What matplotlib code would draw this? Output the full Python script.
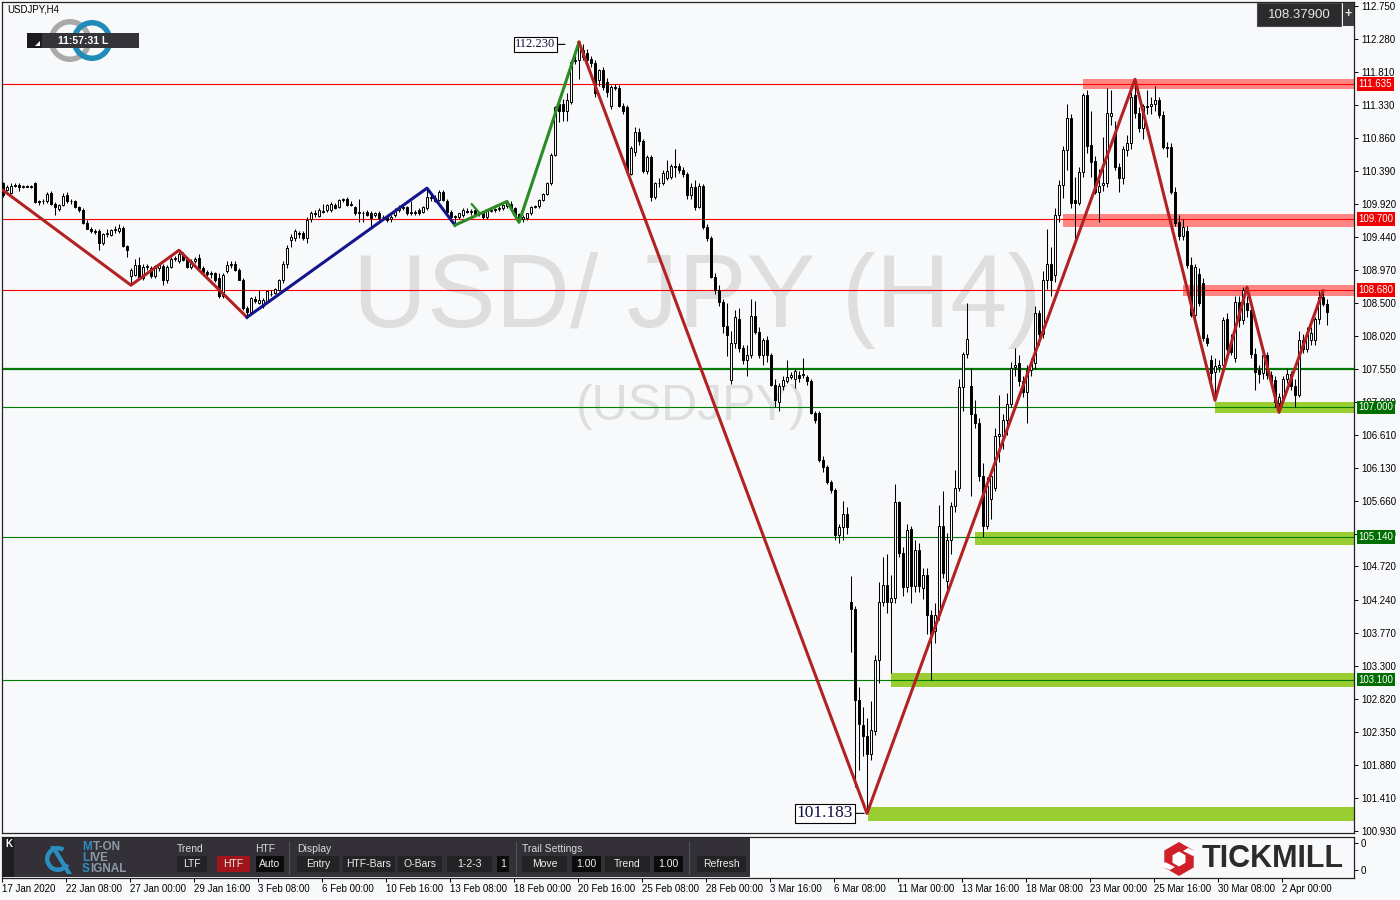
import numpy as np
import matplotlib.pyplot as plt
from matplotlib.patches import Rectangle, Wedge, RegularPolygon, Polygon

plt.rcParams['font.family'] = ['Liberation Sans', 'DejaVu Sans']

# H4 candles, 17 Jan 2020 16:00 .. 3 Apr 2020
opens = [
    110.21, 110.12, 110.07, 110.17, 110.18, 110.16, 110.17, 110.16, 110.21, 109.94,
    109.95, 109.95, 110.07, 109.92, 109.84, 109.90, 110.04, 109.95, 109.95, 109.87,
    109.83, 109.64, 109.56, 109.52, 109.52, 109.35, 109.49, 109.47, 109.54, 109.52,
    109.57, 109.31, 108.88, 108.90, 109.04, 108.85, 109.01, 108.99, 108.88, 108.99,
    109.02, 108.82, 109.01, 109.13, 109.09, 109.18, 109.12, 109.01, 109.10, 109.14,
    109.00, 108.94, 108.91, 108.92, 108.85, 108.60, 108.96, 109.04, 109.06, 108.97,
    108.83, 108.42, 108.37, 108.55, 108.50, 108.45, 108.52, 108.63, 108.64, 108.68,
    108.82, 109.05, 109.40, 109.42, 109.50, 109.50, 109.42, 109.70, 109.78, 109.74,
    109.82, 109.83, 109.83, 109.90, 109.87, 109.97, 109.98, 109.92, 109.87, 109.79,
    109.79, 109.80, 109.79, 109.76, 109.78, 109.72, 109.73, 109.70, 109.76, 109.83,
    109.86, 109.87, 109.79, 109.80, 109.83, 109.80, 109.85, 110.00, 110.00, 109.97,
    110.09, 109.96, 109.80, 109.73, 109.73, 109.76, 109.82, 109.80, 109.83, 109.77,
    109.80, 109.72, 109.82, 109.83, 109.84, 109.85, 109.88, 109.92, 109.85, 109.77,
    109.70, 109.71, 109.78, 109.87, 109.88, 109.97, 110.06, 110.21, 110.62, 111.35,
    111.34, 111.24, 111.38, 111.96, 111.98, 112.12, 112.08, 111.99, 111.93, 111.69,
    111.83, 111.66, 111.31, 111.59, 111.58, 111.32, 111.30, 110.35, 110.66, 110.95,
    110.81, 110.38, 110.59, 110.02, 110.21, 110.21, 110.28, 110.30, 110.46, 110.46,
    110.40, 110.34, 110.04, 110.16, 109.87, 110.17, 109.58, 109.42, 108.87, 108.68,
    108.51, 108.16, 107.39, 107.92, 108.26, 107.85, 107.68, 107.75, 108.31, 108.08,
    107.75, 107.96, 107.75, 107.32, 107.08, 107.30, 107.38, 107.44, 107.41, 107.47,
    107.46, 107.43, 107.38, 106.92, 106.92, 106.25, 106.15, 105.93, 105.81, 105.17,
    105.29, 105.47, 104.21, 104.11, 102.81, 102.45, 102.29, 102.04, 102.36, 103.38,
    104.21, 104.46, 104.21, 104.27, 105.64, 104.91, 104.42, 105.25, 104.44, 104.96,
    104.41, 104.60, 104.02, 103.80, 104.02, 105.30, 104.51, 105.10, 105.59, 105.85,
    107.29, 107.77, 107.31, 106.91, 106.77, 106.02, 105.30, 105.69, 105.85, 106.59,
    106.59, 106.82, 107.05, 107.58, 107.64, 107.38, 107.22, 107.53, 107.64, 108.35,
    108.05, 108.82, 109.06, 108.89, 109.75, 110.18, 110.69, 111.14, 109.97, 109.93,
    110.37, 111.48, 110.76, 110.53, 110.08, 110.19, 110.21, 111.17, 110.95, 110.45,
    110.28, 110.69, 110.78, 111.48, 111.21, 111.00, 111.31, 111.31, 111.34, 111.41,
    111.19, 110.73, 110.73, 110.09, 109.66, 109.45, 109.53, 109.04, 108.32, 108.91,
    108.78, 107.99, 107.68, 107.51, 107.58, 107.61, 108.27, 107.92, 107.70, 108.51,
    108.25, 108.50, 108.40, 107.77, 107.53, 107.49, 107.75, 107.46, 107.39, 107.06,
    107.13, 107.40, 107.48, 107.30, 107.18, 107.96, 107.84, 107.97, 107.96, 108.26,
    108.58, 108.48,
]
highs = [
    110.23, 110.19, 110.21, 110.22, 110.21, 110.19, 110.19, 110.19, 110.23, 109.97,
    109.98, 110.08, 110.10, 109.94, 109.92, 110.07, 110.08, 109.98, 109.97, 109.89,
    109.85, 109.68, 109.58, 109.55, 109.55, 109.50, 109.55, 109.55, 109.60, 109.62,
    109.60, 109.33, 108.99, 109.12, 109.15, 109.05, 109.06, 109.03, 109.04, 109.06,
    109.06, 109.04, 109.16, 109.17, 109.22, 109.22, 109.16, 109.12, 109.15, 109.20,
    109.02, 108.97, 108.95, 108.94, 108.92, 108.92, 109.10, 109.10, 109.09, 109.00,
    108.86, 108.45, 108.58, 108.59, 108.68, 108.57, 108.67, 108.68, 108.71, 108.84,
    109.10, 109.32, 109.48, 109.55, 109.53, 109.52, 109.72, 109.82, 109.83, 109.86,
    109.92, 109.92, 109.94, 109.93, 109.99, 110.00, 110.01, 109.95, 109.89, 109.99,
    109.82, 109.83, 109.82, 109.80, 109.82, 109.76, 109.75, 109.76, 109.85, 109.90,
    109.90, 109.89, 109.95, 109.83, 109.85, 109.89, 110.16, 110.07, 110.04, 110.11,
    110.12, 109.98, 109.83, 109.76, 109.79, 109.85, 109.85, 109.84, 109.85, 109.80,
    109.82, 109.83, 109.85, 109.86, 109.88, 109.91, 109.96, 109.95, 109.87, 109.79,
    109.76, 109.79, 109.89, 109.90, 109.98, 110.07, 110.23, 110.64, 111.32, 111.45,
    111.42, 111.50, 111.97, 112.05, 112.23, 112.20, 112.14, 112.04, 111.97, 111.85,
    111.88, 111.72, 111.62, 111.63, 111.62, 111.36, 111.33, 110.74, 111.02, 111.00,
    110.84, 110.62, 110.62, 110.23, 110.28, 110.40, 110.55, 110.48, 110.70, 110.50,
    110.44, 110.37, 110.22, 110.25, 110.22, 110.20, 109.62, 109.45, 108.92, 108.75,
    108.55, 108.50, 108.10, 108.40, 108.42, 107.90, 107.90, 108.55, 108.53, 108.15,
    108.00, 108.02, 107.78, 107.40, 107.35, 107.45, 107.68, 107.50, 107.55, 107.52,
    107.70, 107.46, 107.40, 106.95, 106.95, 106.30, 106.18, 105.96, 105.85, 105.33,
    105.66, 105.57, 104.58, 104.15, 103.00, 102.70, 102.55, 102.80, 103.45, 104.50,
    104.85, 104.90, 104.60, 105.90, 105.66, 105.00, 105.33, 105.30, 105.10, 105.05,
    104.70, 104.70, 104.10, 104.20, 105.60, 105.80, 105.20, 105.65, 106.10, 107.40,
    107.80, 108.50, 107.57, 107.10, 106.85, 106.20, 106.00, 106.05, 106.70, 107.18,
    106.90, 107.20, 107.65, 107.85, 107.75, 107.45, 107.60, 107.70, 108.45, 108.40,
    108.95, 109.55, 109.30, 109.85, 110.25, 110.75, 111.35, 111.20, 110.30, 110.45,
    111.50, 111.55, 111.24, 110.60, 110.42, 110.88, 111.57, 111.55, 111.10, 110.50,
    110.75, 110.90, 111.60, 111.70, 111.30, 111.35, 111.55, 111.45, 111.60, 111.45,
    111.25, 110.80, 110.78, 110.15, 109.75, 109.70, 109.60, 109.15, 109.05, 109.00,
    108.85, 108.05, 107.75, 107.70, 107.68, 108.30, 108.35, 108.05, 108.60, 108.60,
    108.73, 108.60, 108.45, 107.85, 107.60, 107.85, 107.80, 107.52, 107.45, 107.20,
    107.45, 107.55, 107.52, 107.40, 108.10, 108.05, 108.15, 108.15, 108.30, 108.67,
    108.65, 108.55,
]
lows = [
    110.02, 110.10, 110.05, 110.15, 110.10, 110.14, 110.15, 110.14, 109.93, 109.90,
    109.91, 109.93, 109.90, 109.76, 109.82, 109.88, 109.93, 109.92, 109.85, 109.80,
    109.62, 109.55, 109.50, 109.48, 109.25, 109.33, 109.44, 109.45, 109.50, 109.50,
    109.30, 109.16, 108.75, 108.88, 108.85, 108.83, 108.97, 108.86, 108.85, 108.96,
    108.75, 108.78, 108.99, 109.10, 109.07, 109.09, 108.99, 108.98, 109.07, 108.99,
    108.92, 108.88, 108.85, 108.80, 108.57, 108.57, 108.92, 109.00, 108.95, 108.82,
    108.40, 108.29, 108.34, 108.50, 108.48, 108.43, 108.50, 108.60, 108.62, 108.66,
    108.78, 109.00, 109.30, 109.38, 109.42, 109.40, 109.36, 109.66, 109.72, 109.72,
    109.78, 109.80, 109.80, 109.84, 109.85, 109.94, 109.88, 109.88, 109.75, 109.66,
    109.66, 109.74, 109.59, 109.73, 109.69, 109.68, 109.66, 109.65, 109.73, 109.80,
    109.83, 109.76, 109.76, 109.76, 109.76, 109.78, 109.83, 109.95, 109.94, 109.95,
    109.96, 109.79, 109.70, 109.61, 109.70, 109.73, 109.78, 109.76, 109.74, 109.74,
    109.70, 109.70, 109.80, 109.80, 109.82, 109.83, 109.86, 109.84, 109.75, 109.65,
    109.66, 109.69, 109.76, 109.85, 109.86, 109.95, 110.04, 110.19, 110.60, 111.09,
    111.10, 111.10, 111.35, 111.92, 111.70, 111.98, 111.95, 111.88, 111.45, 111.60,
    111.55, 111.45, 111.28, 111.55, 111.30, 111.20, 110.36, 110.33, 110.60, 110.76,
    110.36, 110.34, 109.96, 109.98, 110.16, 110.18, 110.25, 110.27, 110.30, 110.36,
    110.30, 109.98, 109.99, 109.83, 109.85, 109.55, 109.38, 108.85, 108.63, 108.45,
    108.06, 107.73, 107.33, 107.85, 107.80, 107.62, 107.45, 107.70, 108.05, 107.70,
    107.60, 107.65, 107.30, 107.00, 106.95, 107.25, 107.35, 107.40, 107.28, 107.37,
    107.42, 107.32, 106.90, 106.78, 106.22, 106.08, 105.90, 105.78, 105.10, 105.05,
    105.10, 105.18, 103.50, 101.56, 101.80, 102.00, 101.183, 101.95, 102.30, 103.05,
    104.15, 104.05, 103.19, 104.20, 104.85, 104.30, 104.35, 104.20, 104.35, 104.35,
    104.25, 103.75, 103.09, 103.62, 103.95, 104.55, 104.40, 104.90, 105.50, 105.80,
    106.95, 107.70, 105.73, 106.70, 105.95, 105.14, 105.25, 105.40, 105.80, 106.21,
    106.40, 106.60, 107.00, 107.45, 107.30, 107.15, 106.77, 107.45, 107.55, 107.90,
    108.00, 108.70, 108.60, 108.80, 109.65, 110.00, 110.40, 109.85, 109.34, 109.90,
    110.30, 110.65, 110.30, 110.05, 109.66, 110.10, 110.15, 111.05, 110.40, 110.09,
    110.20, 110.60, 110.70, 111.15, 110.95, 110.85, 111.20, 111.20, 111.25, 111.15,
    110.70, 110.59, 110.05, 109.60, 109.40, 109.40, 109.00, 108.30, 108.25, 108.45,
    107.95, 107.88, 107.37, 107.10, 107.50, 107.55, 107.70, 107.75, 107.65, 108.15,
    108.20, 108.30, 107.70, 107.25, 107.35, 107.40, 107.40, 107.30, 107.00, 106.92,
    107.10, 107.35, 107.25, 107.01, 107.15, 107.78, 107.80, 107.90, 107.90, 108.20,
    108.45, 108.18,
]
closes = [
    110.04, 110.15, 110.17, 110.18, 110.16, 110.17, 110.16, 110.17, 109.94, 109.95,
    109.95, 110.06, 109.92, 109.87, 109.90, 110.03, 109.95, 109.96, 109.87, 109.83,
    109.64, 109.56, 109.52, 109.51, 109.35, 109.49, 109.50, 109.54, 109.55, 109.57,
    109.31, 109.25, 108.97, 109.04, 108.87, 109.01, 109.02, 108.88, 109.02, 109.04,
    108.82, 109.01, 109.13, 109.14, 109.20, 109.11, 109.01, 109.10, 109.12, 109.00,
    108.94, 108.91, 108.92, 108.82, 108.59, 108.90, 109.04, 109.06, 108.97, 108.83,
    108.42, 108.37, 108.56, 108.53, 108.54, 108.54, 108.66, 108.62, 108.69, 108.82,
    109.05, 109.28, 109.44, 109.52, 109.48, 109.42, 109.69, 109.79, 109.77, 109.83,
    109.80, 109.90, 109.91, 109.86, 109.97, 109.98, 109.90, 109.90, 109.78, 109.80,
    109.78, 109.75, 109.71, 109.78, 109.71, 109.73, 109.68, 109.73, 109.83, 109.87,
    109.87, 109.78, 109.80, 109.79, 109.78, 109.87, 110.02, 110.01, 109.95, 110.09,
    109.97, 109.80, 109.73, 109.74, 109.78, 109.83, 109.80, 109.81, 109.76, 109.78,
    109.73, 109.81, 109.83, 109.84, 109.86, 109.90, 109.94, 109.85, 109.76, 109.68,
    109.73, 109.78, 109.87, 109.88, 109.97, 110.06, 110.21, 110.62, 111.30, 111.24,
    111.24, 111.40, 111.95, 111.98, 112.19, 112.02, 111.98, 111.93, 111.50, 111.83,
    111.59, 111.52, 111.59, 111.58, 111.32, 111.24, 110.38, 110.71, 110.95, 110.81,
    110.38, 110.59, 110.02, 110.21, 110.22, 110.36, 110.38, 110.46, 110.45, 110.40,
    110.34, 110.04, 110.16, 109.87, 110.17, 109.58, 109.42, 108.87, 108.68, 108.51,
    108.16, 108.04, 107.92, 108.29, 107.85, 107.68, 107.75, 108.31, 108.08, 107.75,
    107.96, 107.75, 107.32, 107.10, 107.30, 107.39, 107.44, 107.46, 107.52, 107.42,
    107.48, 107.38, 106.92, 106.82, 106.25, 106.15, 105.93, 105.81, 105.17, 105.29,
    105.47, 105.29, 104.11, 102.81, 102.46, 102.29, 102.04, 102.38, 103.38, 104.21,
    104.46, 104.21, 104.27, 105.64, 104.91, 104.42, 105.24, 104.44, 104.96, 104.44,
    104.60, 104.02, 103.75, 104.02, 105.30, 104.62, 105.10, 105.59, 105.85, 107.29,
    107.77, 107.98, 106.91, 106.77, 106.02, 105.30, 105.88, 106.02, 106.59, 106.62,
    106.82, 107.05, 107.57, 107.61, 107.38, 107.22, 107.53, 107.64, 108.35, 108.05,
    108.82, 109.06, 108.82, 109.75, 110.18, 110.69, 111.14, 109.93, 109.93, 110.37,
    111.48, 110.74, 110.52, 110.09, 110.17, 110.21, 111.22, 111.22, 110.45, 110.28,
    110.70, 110.78, 111.45, 111.21, 111.00, 111.31, 111.30, 111.34, 111.41, 111.19,
    110.73, 110.72, 110.09, 109.64, 109.45, 109.58, 109.04, 108.32, 109.01, 108.49,
    107.99, 107.92, 107.49, 107.59, 107.61, 108.25, 107.84, 107.80, 108.51, 108.25,
    108.68, 108.39, 107.77, 107.51, 107.48, 107.75, 107.46, 107.37, 107.08, 107.15,
    107.40, 107.48, 107.30, 107.18, 107.96, 107.84, 108.06, 108.06, 108.26, 108.58,
    108.48, 108.37,
]

# zigzag swing points (bar index, price)
zz_red1_x = [0, 32, 44, 61]
zz_red1_y = [110.11, 108.75, 109.25, 108.29]
zz_blue_x = [61, 106, 113]
zz_blue_y = [108.29, 110.14, 109.61]
zz_green_x = [113, 126, 129, 144]
zz_green_y = [109.61, 109.95, 109.65, 112.23]
zz_green2_x = [117.2, 119.2]
zz_green2_y = [109.91, 109.78]
zz_main_x = [144, 216, 283, 303, 311, 319, 330]
zz_main_y = [112.23, 101.183, 111.70, 107.10, 108.72, 106.93, 108.67]

# levels
res_levels = [111.635, 109.70, 108.68]
sup_levels = [107.00, 105.14, 103.10]
thick_level = 107.55
# zones: start bar, low, high
red_zones = [(270, 111.56, 111.71), (265, 109.58, 109.77), (295, 108.60, 108.75)]
green_zones = [(303, 106.92, 107.08), (243, 105.03, 105.21), (222, 102.99, 103.19), (216.3, 101.07, 101.27)]

price_ticks = [112.750, 112.280, 111.810, 111.330, 110.860, 110.390, 109.920, 109.440,
               108.970, 108.500, 108.020, 107.550, 107.080, 106.610, 106.130, 105.660,
               105.180, 104.720, 104.240, 103.770, 103.300, 102.820, 102.350, 101.880,
               101.410, 100.930]
date_labels = ['17 Jan 2020', '22 Jan 08:00', '27 Jan 00:00', '29 Jan 16:00', '3 Feb 08:00',
               '6 Feb 00:00', '10 Feb 16:00', '13 Feb 08:00', '18 Feb 00:00', '20 Feb 16:00',
               '25 Feb 08:00', '28 Feb 00:00', '3 Mar 16:00', '6 Mar 08:00', '11 Mar 00:00',
               '13 Mar 16:00', '18 Mar 08:00', '23 Mar 00:00', '25 Mar 16:00', '30 Mar 08:00',
               '2 Apr 00:00']

W, H = 1400, 900
BG = '#F8F9FB'
XLIM = (-0.25, 337.75)

fig = plt.figure(figsize=(W / 100, H / 100), dpi=100, facecolor=BG)
tr = fig.dpi_scale_trans


def pt(x, y):
    # screen pixel (top-left origin) -> inches for dpi_scale_trans
    return (x / 100, (H - y) / 100)


def rect(x0, y0, x1, y1, fc, ec='none', lw=0):
    fig.add_artist(Rectangle(pt(x0, y1), (x1 - x0) / 100, (y1 - y0) / 100,
                             transform=tr, fc=fc, ec=ec, lw=lw))


def ftext(x, y, s, **kw):
    fig.text(x / W, 1 - y / H, s, **kw)


# ---- main chart ----
ax = fig.add_axes([2 / W, (H - 833) / H, 1352 / W, 831 / H])
ax.set_facecolor(BG)
ax.set_xlim(*XLIM)
ax.set_ylim(100.902, 112.807)

o = np.array(opens)
h = np.array(highs)
l = np.array(lows)
c = np.array(closes)
x = np.arange(len(c))
up = c >= o

# watermark
ax.text(0.514, 0.641, 'USD/ JPY (H4)', transform=ax.transAxes, fontsize=74,
        color='#DEDEDE', ha='center', va='center', zorder=0.5)
ax.text(0.510, 0.513, '(USDJPY)', transform=ax.transAxes, fontsize=36,
        color='#DEDEDE', ha='center', va='center', zorder=0.5)

for start, lo, hi in red_zones:
    ax.add_patch(Rectangle((start, lo), XLIM[1] - start + 1, hi - lo, fc='#FF8585', ec='none', zorder=1))
for start, lo, hi in green_zones:
    ax.add_patch(Rectangle((start, lo), XLIM[1] - start + 1, hi - lo, fc='#9ACD32', ec='none', zorder=1))
for lv in res_levels:
    ax.axhline(lv, color='#FF0000', lw=0.8, zorder=1.5)
for lv in sup_levels:
    ax.axhline(lv, color='#008000', lw=0.8, zorder=1.5)
ax.axhline(thick_level, color='#007A00', lw=1.6, zorder=1.5)

# candles
ax.vlines(x, l, h, colors='black', linewidth=0.75, zorder=3)
ax.bar(x, np.maximum(np.abs(c - o), 0.008), width=0.55, bottom=np.minimum(o, c),
       color=np.where(up, 'white', 'black'), edgecolor='black', linewidth=0.7, zorder=3.5)

# zigzag
ax.plot(zz_red1_x, zz_red1_y, color='#B22222', lw=2.2, zorder=4)
ax.plot(zz_blue_x, zz_blue_y, color='#14148C', lw=2.2, zorder=4)
ax.plot(zz_green_x, zz_green_y, color='#2A8C22', lw=2.2, zorder=4)
ax.plot(zz_green2_x, zz_green2_y, color='#2A8C22', lw=1.6, zorder=4)
ax.plot(zz_main_x, zz_main_y, color='#B22222', lw=2.2, zorder=4)

# swing labels
ax.annotate('112.230', xy=(140.5, 112.20), xytext=(-7, 0), textcoords='offset points',
            ha='right', va='center', fontsize=9, family='Liberation Serif', color='#101040',
            bbox=dict(boxstyle='square,pad=0.12', fc='white', ec='black', lw=0.8),
            arrowprops=dict(arrowstyle='-', lw=0.8, color='black', shrinkA=0, shrinkB=0), zorder=6)
ax.annotate('101.183', xy=(215.3, 101.183), xytext=(-8, 0), textcoords='offset points',
            ha='right', va='center', fontsize=12.5, family='Liberation Serif', color='#101040',
            bbox=dict(boxstyle='square,pad=0.1', fc='white', ec='black', lw=0.8),
            arrowprops=dict(arrowstyle='-', lw=0.8, color='black', shrinkA=0, shrinkB=0), zorder=6)

# price axis
ax.yaxis.tick_right()
ax.set_yticks(price_ticks)
ax.set_yticklabels([f'{v:.3f}' for v in price_ticks], fontsize=7)
ax.tick_params(axis='y', direction='out', length=3, width=0.7, pad=2)
ax.set_xticks([])
for s in ax.spines.values():
    s.set_color('#222222')
    s.set_linewidth(0.9)

for lv in res_levels:
    ax.annotate(f'{lv:.3f}', xy=(1, lv), xycoords=('axes fraction', 'data'), xytext=(3.2, 0),
                textcoords='offset points', ha='left', va='center', fontsize=7, color='white',
                bbox=dict(boxstyle='square,pad=0.18', fc='#F00000', ec='none'),
                annotation_clip=False, zorder=10)
for lv in sup_levels:
    ax.annotate(f'{lv:.3f}', xy=(1, lv), xycoords=('axes fraction', 'data'), xytext=(3.2, 0),
                textcoords='offset points', ha='left', va='center', fontsize=7, color='white',
                bbox=dict(boxstyle='square,pad=0.18', fc='#006E00', ec='none'),
                annotation_clip=False, zorder=10)

# ---- indicator panel / time axis ----
axp = fig.add_axes([2 / W, (H - 878) / H, 1352 / W, 41 / H])
axp.set_facecolor(BG)
axp.set_xlim(*XLIM)
axp.set_ylim(0, 1)
axp.yaxis.tick_right()
axp.set_yticks([0.854, 0.195])
axp.set_yticklabels(['0', '0'], fontsize=7)
axp.tick_params(axis='y', direction='out', length=3, width=0.7, pad=2)
axp.set_xticks([16 * k - 0.25 for k in range(len(date_labels))])
axp.set_xticklabels(date_labels, fontsize=7, ha='left')
axp.tick_params(axis='x', direction='out', length=3, width=0.7, pad=1.5)
for s in axp.spines.values():
    s.set_color('#222222')
    s.set_linewidth(0.9)

# dark control strip
rect(3, 838, 750, 877, '#333137')
rect(3, 838, 14, 877, '#1E1E20')
ftext(8.5, 844, 'K', fontsize=7, color='white', ha='center', va='center', weight='bold')
fig.add_artist(Wedge(pt(58, 859), 0.13, 60, 330, width=0.045, transform=tr, fc='#2A8FC0', ec='none'))
fig.add_artist(Polygon([pt(50, 846), pt(55, 846), pt(72, 874), pt(67, 874)], closed=True,
                       transform=tr, fc='#2A8FC0', ec='none'))
# brand words: first letter blue, rest grey
for wy, first, rest, dx in [(847, 'M', 'T-ON', 10.5), (858, 'L', 'IVE', 7.5), (869, 'S', 'IGNAL', 8.5)]:
    ftext(82, wy, first, fontsize=8.5, color='#2A8FC0', ha='left', va='center', weight='bold')
    ftext(82 + dx, wy, rest, fontsize=8.5, color='#8C9AA6', ha='left', va='center', weight='bold')

for lx, lab in [(177, 'Trend'), (255, 'HTF'), (297, 'Display'), (522, 'Trail Settings')]:
    ftext(lx, 849, lab, fontsize=7.5, color='#DADADA', ha='left', va='center')
for sx in [289, 516, 689]:
    fig.add_artist(plt.Line2D([sx / 100, sx / 100], [(H - 842) / 100, (H - 874) / 100],
                              transform=tr, color='#55535A', lw=0.8))
buttons = [(177, 207, 'LTF', '#232325'), (217, 250, 'HTF', '#A0141A'), (256, 284, 'Auto', '#0C0C0C'),
           (297, 339, 'Entry', '#232325'), (343, 395, 'HTF-Bars', '#232325'),
           (398, 442, 'O-Bars', '#232325'), (447, 492, '1-2-3', '#232325'), (497, 509, '1', '#0C0C0C'),
           (522, 567, 'Move', '#232325'), (572, 601, '1.00', '#0C0C0C'), (605, 650, 'Trend', '#232325'),
           (654, 683, '1.00', '#0C0C0C'), (697, 746, 'Refresh', '#232325')]
for bx0, bx1, lab, fc in buttons:
    rect(bx0, 856, bx1, 872, fc)
    ftext((bx0 + bx1) / 2, 864, lab, fontsize=7.5, color='#EDEDED', ha='center', va='center')

# Tickmill logo
fig.add_artist(RegularPolygon(pt(1179, 859), 6, radius=0.17, orientation=0, transform=tr,
                              fc='#D0202A', ec='none'))
fig.add_artist(RegularPolygon(pt(1179, 859), 6, radius=0.075, orientation=0, transform=tr,
                              fc='white', ec='none'))
fig.add_artist(Polygon([pt(1183, 851), pt(1188, 848), pt(1197, 852), pt(1193, 856)], closed=True,
                       transform=tr, fc='white', ec='none'))
fig.add_artist(Polygon([pt(1175, 867), pt(1170, 870), pt(1161, 866), pt(1165, 862)], closed=True,
                       transform=tr, fc='white', ec='none'))
ftext(1202, 859, 'TICKMILL', fontsize=22, color='#2B2B2B', ha='left', va='center', weight='bold')

# ---- top overlays ----
ftext(7, 10, 'USDJPY,H4', fontsize=7, color='black', ha='left', va='center')
fig.add_artist(Wedge(pt(70, 40.5), 0.215, 0, 360, width=0.055, transform=tr, fc='#A9A9A9', ec='none'))
fig.add_artist(Wedge(pt(92, 40.5), 0.205, 0, 360, width=0.055, transform=tr, fc='#1E8BB8', ec='none'))
rect(27, 33, 139, 48, '#35343A')
rect(27, 33, 42, 48, '#1C1C1E')
fig.add_artist(Polygon([pt(35, 46), pt(40, 46), pt(40, 41)], closed=True, transform=tr,
                       fc='white', ec='none'))
ftext(83, 40.5, '11:57:31 L', fontsize=7.5, color='white', ha='center', va='center', weight='bold')

rect(1257, 3, 1341, 26, '#2B2B2D', ec='#4A4A4C', lw=0.8)
ftext(1299, 14.5, '108.37900', fontsize=9.5, color='#E6E6E6', ha='center', va='center')
rect(1343, 3, 1354, 26, '#3A3A3C')
ftext(1348.5, 14.5, '+', fontsize=9, color='#E0E0E0', ha='center', va='center', weight='bold')

fig.savefig('out.png', dpi=100, facecolor=BG)
